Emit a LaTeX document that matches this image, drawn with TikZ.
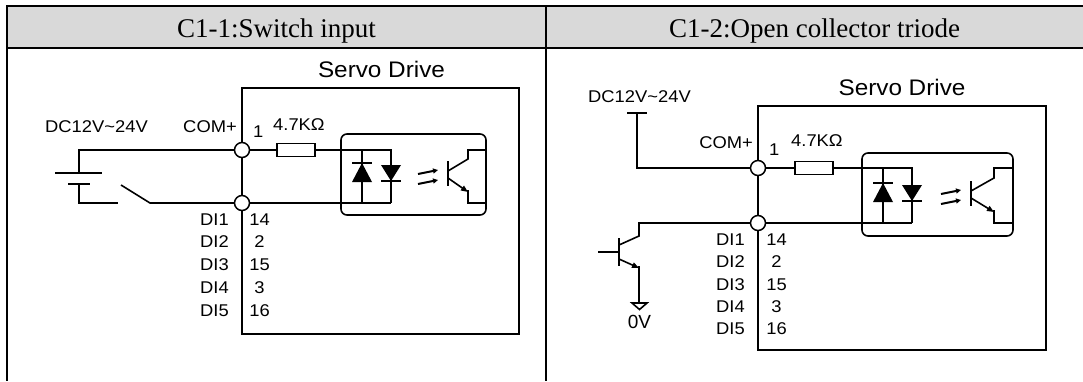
\documentclass[tikz,border=0pt]{standalone}
\usepackage{fontspec}
\setmainfont{Liberation Serif}
\newfontfamily\lsans[FakeStretch=1.08]{Liberation Sans}
\newfontfamily\lsanso{Liberation Sans}
\usetikzlibrary{arrows.meta}
\definecolor{hdr}{RGB}{217,217,217}
\begin{document}
\begin{tikzpicture}[x=1pt,y=-1pt,
  tbl/.style={line width=1.8pt},
  wire/.style={line width=1.6pt},
  term/.style={circle, draw, fill=white, minimum size=15pt, inner sep=0pt, line width=1.5pt},
  res/.style={draw, rectangle, minimum width=38pt, minimum height=13pt, inner sep=0pt, line width=1.6pt},
  lbl/.style={font={\lsans\fontsize{17}{19}\selectfont}, inner sep=0pt},
  sdlbl/.style={font={\lsans\fontsize{22.5}{25}\selectfont}, inner sep=0pt},
  ttl/.style={font={\fontsize{27}{30}\selectfont}, inner sep=0pt},
  zv/.style={font={\lsanso\fontsize{19}{20}\selectfont}, inner sep=0pt},
  bigtip/.style={-{Triangle[length=7pt,width=5.5pt]}},
  smalltip/.style={-{Triangle[length=5pt,width=5pt]}}]
\useasboundingbox (0,0) rectangle (1083,381);
% ---------- table ----------
\fill[hdr] (7,6) rectangle (1083,48);
\draw[tbl] (1083,6) -- (7,6) -- (7,381);
\draw[tbl] (7,48) -- (1083,48);
\draw[tbl] (546,6) -- (546,381);
\node[ttl, anchor=base] (t1) at (276.5,37) {C1-1:Switch input};
\node[ttl, anchor=base] (t2) at (814.5,37) {C1-2:Open collector triode};

% ========== LEFT PANEL ==========
\draw[wire] (242,88) rectangle (519,334);
\node[sdlbl, anchor=base] (sd1) at (381.5,77) {Servo Drive};
\node[term] (l1) at (242,150) {};
\node[term] (l2) at (242,203) {};
\node[res] (r1) at (296,150) {};
% supply + switch
\draw[wire] (l1) -- (79,150) -- (79,173);
\draw[wire] (55,173) -- (102,173);
\draw[wire] (68,184) -- (90,184);
\draw[wire] (79,184) -- (79,203) -- (118,203);
\draw[wire] (121,185) -- (150,203) -- (l2);
% input side
\draw[wire] (l1) -- (r1);
\draw[wire] (r1) -- (391,150) -- (391,203);
\draw[wire] (362,150) -- (362,203);
\draw[wire] (l2) -- (391,203);
% diodes
\fill (362,163) -- (352,182) -- (372,182) -- cycle;
\draw[wire] (352,163) -- (372,163);
\fill (381,165) -- (401,165) -- (391,181) -- cycle;
\draw[wire] (381,181) -- (401,181);
% opto box
\draw[wire, rounded corners=6pt] (341,134) rectangle (486,215);
% light arrows
\draw[line width=2pt, smalltip] (418,174) -- (438,170);
\draw[line width=2pt, smalltip] (418,184) -- (438,180);
% phototransistor
\draw[line width=2.4pt] (448,161) -- (448,186);
\draw[wire] (448,171) -- (468,159) -- (468,150) -- (486,150);
\draw[wire, bigtip] (448,178) -- (468,192);
\draw[wire] (468,190) -- (468,203) -- (486,203);
% labels
\node[lbl, anchor=base west] (v1) at (45,132) {DC12V\textasciitilde24V};
\node[lbl, anchor=base east] (c1) at (237,132) {COM+};
\node[lbl, anchor=base west] (p1) at (253,137) {1};
\node[lbl, anchor=base west] (k1) at (273,130) {4.7K\symbol{"03A9}};
\node[lbl, anchor=base west] (da1) at (200,225) {DI1};
\node[lbl, anchor=base west] (da2) at (200,247) {DI2};
\node[lbl, anchor=base west] (da3) at (200,270) {DI3};
\node[lbl, anchor=base west] (da4) at (200,293) {DI4};
\node[lbl, anchor=base west] (da5) at (200,316) {DI5};
\node[lbl, anchor=base] (na1) at (259.5,225) {14};
\node[lbl, anchor=base] (na2) at (259.5,247) {2};
\node[lbl, anchor=base] (na3) at (259.5,270) {15};
\node[lbl, anchor=base] (na4) at (259.5,293) {3};
\node[lbl, anchor=base] (na5) at (259.5,316) {16};

% ========== RIGHT PANEL ==========
\draw[wire] (758,106) rectangle (1046,350);
\node[sdlbl, anchor=base] (sd2) at (902,95) {Servo Drive};
\node[term] (m1) at (758,168) {};
\node[term] (m2) at (758,223) {};
\node[res] (r2) at (814,168) {};
% supply
\draw[wire] (627,113) -- (647,113);
\draw[wire] (637,113) -- (637,168) -- (m1);
% input side
\draw[wire] (m1) -- (r2);
\draw[wire] (r2) -- (912,168) -- (912,223);
\draw[wire] (883,168) -- (883,223);
\draw[wire] (m2) -- (912,223);
% diodes
\fill (883,183) -- (873,202) -- (893,202) -- cycle;
\draw[wire] (873,183) -- (893,183);
\fill (902,185) -- (922,185) -- (912,201) -- cycle;
\draw[wire] (902,201) -- (922,201);
% opto box
\draw[wire, rounded corners=6pt] (862,153) rectangle (1013,236);
% light arrows
\draw[line width=2pt, smalltip] (941,194) -- (961,190);
\draw[line width=2pt, smalltip] (941,204) -- (961,200);
% phototransistor
\draw[line width=2.4pt] (971,181) -- (971,206);
\draw[wire] (971,191) -- (994,178) -- (994,168) -- (1013,168);
\draw[wire, bigtip] (971,198) -- (994,212);
\draw[wire] (994,210) -- (994,223) -- (1013,223);
% external transistor
\draw[wire] (598,252) -- (619,252);
\draw[line width=2.4pt] (619,238) -- (619,266);
\draw[wire] (m2) -- (639,223) -- (639,236) -- (619,245);
\draw[wire, bigtip] (619,259) -- (639,268);
\draw[wire] (639,266) -- (639,303);
\draw[wire, fill=white, line join=miter] (632,303) -- (647,303) -- (639.5,309.5) -- cycle;
\node[zv] (zv) at (639.5,322) {0V};
% labels
\node[lbl, anchor=base west] (v2) at (588,102) {DC12V\textasciitilde24V};
\node[lbl, anchor=base east] (c2) at (753,148) {COM+};
\node[lbl, anchor=base west] (p2) at (769,155) {1};
\node[lbl, anchor=base west] (k2) at (791,146) {4.7K\symbol{"03A9}};
\node[lbl, anchor=base west] (db1) at (716,245) {DI1};
\node[lbl, anchor=base west] (db2) at (716,267) {DI2};
\node[lbl, anchor=base west] (db3) at (716,290) {DI3};
\node[lbl, anchor=base west] (db4) at (716,312) {DI4};
\node[lbl, anchor=base west] (db5) at (716,334) {DI5};
\node[lbl, anchor=base] (nb1) at (776.5,245) {14};
\node[lbl, anchor=base] (nb2) at (776.5,267) {2};
\node[lbl, anchor=base] (nb3) at (776.5,290) {15};
\node[lbl, anchor=base] (nb4) at (776.5,312) {3};
\node[lbl, anchor=base] (nb5) at (776.5,334) {16};
\end{tikzpicture}
\end{document}
